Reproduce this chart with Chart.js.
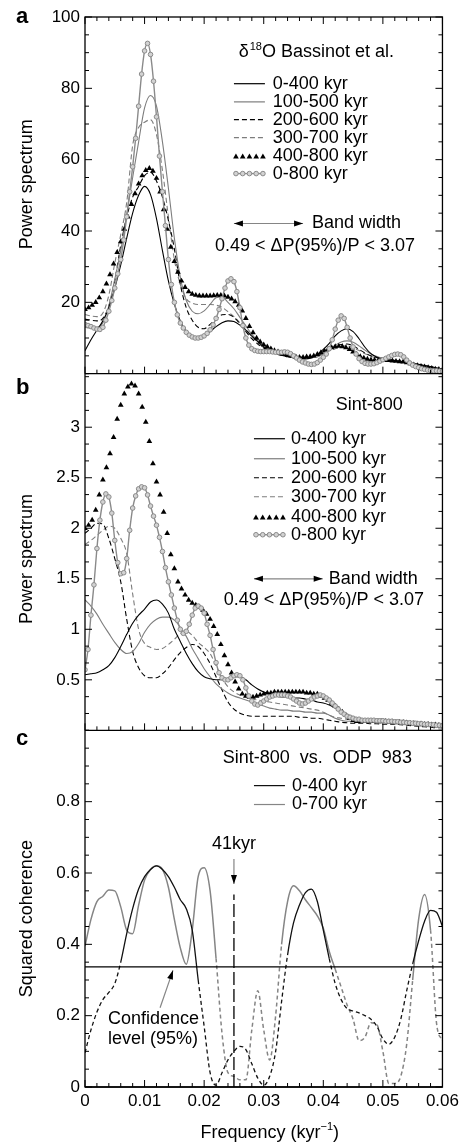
<!DOCTYPE html>
<html>
<head>
<meta charset="utf-8">
<title>Power spectra and coherence</title>
<script src="https://cdn.jsdelivr.net/npm/chart.js@4.4.1/dist/chart.umd.min.js"></script>
<style>
  html, body { margin: 0; padding: 0; background: #fff; }
  canvas { display: block; }
</style>
</head>
<body>
<canvas id="chart" width="463" height="1143"></canvas>
<script>
// frequency grids (kyr^-1)
const freqLine = [0,.001,.002,.003,.004,.005,.006,.007,.008,.009,.010,.011,.012,.013,.014,.015,.016,.017,.018,.019,
  .020,.021,.022,.023,.024,.025,.026,.027,.028,.029,.030,.031,.032,.033,.034,.035,.036,.037,.038,.039,
  .040,.041,.042,.043,.044,.045,.046,.047,.048,.049,.050,.051,.052,.053,.054,.055,.056,.057,.058,.059,.060];
const freqCircle = [0,.0005,.001,.0015,.002,.0025,.003,.0035,.004,.0045,.005,.0055,.006,.0065,.007,.0075,.008,.0085,.009,.0095,
  .010,.0105,.011,.0115,.012,.0125,.013,.0135,.014,.0145,.015,.0155,.016,.0165,.017,.0175,.018,.0185,.019,.0195,
  .020,.0205,.021,.0215,.022,.0225,.023,.0235,.024,.0245,.025,.0255,.026,.0265,.027,.0275,.028,.0285,.029,.0295,
  .030,.0305,.031,.0315,.032,.0325,.033,.0335,.034,.0345,.035,.0355,.036,.0365,.037,.0375,.038,.0385,.039,.0395,
  .040,.0405,.041,.0415,.042,.0425,.043,.0435,.044,.0445,.045,.0455,.046,.0465,.047,.0475,.048,.0485,.049,.0495,
  .050,.0505,.051,.0515,.052,.0525,.053,.0535,.054,.0545,.055,.0555,.056,.0565,.057,.0575,.058,.0585,.059,.0595,.060];
const freqTriangle = [0,.0006,.0012,.0018,.0024,.003,.0036,.0042,.0048,.0054,.006,.0066,.0072,.0078,.0084,.009,.0096,.0102,.0108,.0114,
  .012,.0126,.0132,.0138,.0144,.015,.0156,.0162,.0168,.0174,.018,.0186,.0192,.0198,.0204,.021,.0216,.0222,.0228,.0234,
  .024,.0246,.0252,.0258,.0264,.027,.0276,.0282,.0288,.0294,.030,.0306,.0312,.0318,.0324,.033,.0336,.0342,.0348,.0354,
  .036,.0366,.0372,.0378,.0384,.039,.0396,.0402,.0408,.0414,.042,.0426,.0432,.0438,.0444,.045,.0456,.0462,.0468,.0474,
  .048,.0486,.0492,.0498,.0504,.051,.0516,.0522,.0528,.0534,.054,.0546,.0552,.0558,.0564,.057,.0576,.0582,.0588,.0594,.060];

// panel a: d18O Bassinot et al.
const a0400 = [6.4,9.5,12.2,14.8,18.5,24.0,30.5,38.0,45.0,50.0,52.5,50.2,43.5,34.5,26.0,19.5,14.8,11.8,10.3,10.0,
  10.6,11.8,13.2,14.3,14.8,14.6,13.6,12.2,10.5,9.0,7.5,6.5,5.8,5.2,4.8,4.4,4.1,4.1,4.5,5.4,
  6.8,8.5,10.6,12.0,12.6,11.8,9.8,7.4,5.6,4.6,4.1,3.9,3.7,3.5,3.2,2.9,2.6,2.3,2.0,1.6,1.3];
const a100500 = [13.0,12.8,13.0,14.2,19.0,26.5,34.5,44.6,55.0,65.0,74.5,78.0,75.0,65.0,52.0,38.0,27.0,20.5,17.5,16.8,
  17.6,19.4,21.3,21.5,20.0,18.2,15.8,13.4,11.0,9.3,8.0,7.0,6.2,5.6,5.2,4.9,4.7,4.6,4.6,4.7,
  5.6,6.8,8.0,8.9,9.2,8.8,7.8,6.6,5.5,4.8,4.3,4.0,3.7,3.4,3.1,2.8,2.5,2.2,1.9,1.6,1.3];
const a200600 = [15.3,15.0,14.8,15.5,19.0,26.0,36.0,44.0,49.5,52.5,55.5,56.5,54.0,49.5,43.0,35.0,25.0,18.5,15.0,13.0,
  12.6,13.8,15.3,16.5,16.6,15.8,14.0,11.8,9.8,8.3,7.2,6.3,5.6,5.1,4.8,4.6,4.5,4.4,4.5,5.0,
  5.9,6.9,7.7,8.2,8.3,7.8,6.8,5.8,5.0,4.5,4.2,3.9,3.7,3.4,3.1,2.8,2.5,2.2,1.9,1.6,1.3];
const a300700 = [16.6,16.2,16.0,17.0,22.0,31.0,39.0,48.0,64.0,69.0,70.5,71.2,67.0,57.0,44.0,32.0,25.0,21.0,19.8,19.4,
  19.4,19.4,19.2,18.6,17.4,16.0,14.3,12.6,10.5,8.8,7.3,6.4,5.8,5.4,5.1,4.8,4.6,4.5,4.6,5.0,
  5.7,6.4,7.0,7.6,7.8,7.3,6.5,5.6,4.9,4.4,4.1,3.8,3.6,3.4,3.1,2.8,2.5,2.2,1.9,1.6,1.3];
const a400800 = [18.0,18.5,19.2,20.0,21.3,23.0,25.2,27.8,30.8,34.0,37.0,40.5,44.0,47.5,50.5,53.2,55.5,57.0,57.6,56.8,
  54.8,51.0,46.0,40.5,35.5,31.5,28.5,26.0,24.2,23.0,22.3,22.0,21.8,21.8,21.8,21.8,21.9,22.0,22.0,21.8,
  21.5,21.0,20.2,19.2,17.6,15.5,13.3,11.5,10.0,8.9,8.1,7.5,7.0,6.5,6.1,5.7,5.4,5.1,4.9,4.7,
  4.6,4.6,4.7,4.8,5.0,5.4,5.9,6.4,6.9,7.3,7.6,7.7,7.6,7.3,6.8,6.1,5.4,4.8,4.4,4.1,
  3.9,3.8,3.7,3.7,3.7,3.7,3.6,3.5,3.4,3.3,3.1,2.8,2.5,2.3,2.1,1.9,1.7,1.5,1.3,1.2,1.1];
const a0800 = [13.8,13.5,13.2,12.8,12.5,12.4,13.0,15.0,17.5,20.5,24.0,28.0,32.0,37.5,44.0,51.0,58.0,66.0,75.0,84.0,
  90.5,92.6,89.5,82.0,72.0,61.0,51.0,41.5,32.0,25.0,20.0,16.5,14.2,12.8,11.6,10.8,10.3,10.0,10.0,10.2,
  10.6,11.3,12.3,13.7,15.5,18.0,21.0,24.0,26.0,26.6,25.8,23.0,18.5,13.5,10.0,8.0,7.0,6.5,6.3,6.2,
  6.2,6.2,6.2,6.1,6.0,6.0,6.0,6.1,6.0,5.6,5.0,4.4,3.8,3.3,3.0,2.7,2.6,2.7,3.1,3.8,
  4.6,5.5,7.0,9.5,12.5,15.0,16.2,15.5,13.0,10.0,7.5,5.5,4.2,3.4,2.9,2.7,2.7,2.8,3.1,3.5,
  3.9,4.3,4.7,5.1,5.4,5.5,5.3,4.7,3.8,3.0,2.4,2.0,1.7,1.4,1.2,1.0,0.9,0.8,0.8,0.7,0.7];

// panel b: Sint-800
const b0400 = [0.55,0.56,0.57,0.60,0.64,0.72,0.83,0.95,1.06,1.14,1.20,1.27,1.29,1.25,1.16,1.00,0.88,0.76,0.66,0.58,
  0.53,0.51,0.50,0.50,0.51,0.53,0.53,0.50,0.45,0.41,0.38,0.36,0.34,0.33,0.33,0.32,0.32,0.31,0.30,0.28,
  0.27,0.25,0.22,0.19,0.16,0.13,0.11,0.10,0.095,0.09,0.09,0.085,0.085,0.08,0.075,0.07,0.065,0.06,0.055,0.05,0.045];
const b100500 = [1.29,1.23,1.15,1.05,0.96,0.87,0.80,0.76,0.78,0.86,0.97,1.05,1.10,1.12,1.12,1.09,1.02,0.93,0.81,0.71,
  0.61,0.53,0.46,0.41,0.37,0.34,0.32,0.30,0.28,0.26,0.24,0.22,0.21,0.20,0.20,0.19,0.19,0.18,0.18,0.17,
  0.17,0.15,0.12,0.10,0.09,0.09,0.085,0.085,0.08,0.08,0.08,0.075,0.075,0.07,0.07,0.065,0.06,0.055,0.05,0.04,0.035];
const b200600 = [1.95,2.00,2.05,2.04,1.90,1.70,1.47,1.10,0.78,0.62,0.54,0.52,0.52,0.56,0.62,0.70,0.77,0.82,0.85,0.83,
  0.76,0.66,0.53,0.40,0.28,0.21,0.17,0.15,0.14,0.14,0.14,0.14,0.14,0.14,0.14,0.14,0.13,0.13,0.12,0.12,
  0.11,0.10,0.09,0.08,0.075,0.07,0.07,0.07,0.065,0.065,0.06,0.06,0.06,0.055,0.05,0.045,0.04,0.035,0.03,0.025,0.025];
const b300700 = [1.84,1.88,1.93,1.98,2.02,2.00,1.90,1.75,1.35,1.00,0.86,0.82,0.80,0.81,0.85,0.90,0.96,0.98,0.94,0.87,
  0.82,0.76,0.64,0.52,0.43,0.38,0.35,0.33,0.31,0.30,0.29,0.28,0.27,0.26,0.25,0.24,0.23,0.22,0.21,0.20,
  0.18,0.15,0.13,0.12,0.11,0.10,0.09,0.085,0.08,0.075,0.07,0.07,0.065,0.06,0.055,0.05,0.045,0.04,0.035,0.03,0.025];
const b400800 = [2.00,2.03,2.08,2.18,2.33,2.48,2.60,2.74,2.90,3.08,3.22,3.33,3.40,3.43,3.41,3.33,3.20,3.05,2.86,2.64,
  2.46,2.33,2.16,1.95,1.74,1.60,1.47,1.40,1.34,1.29,1.26,1.24,1.22,1.19,1.15,1.10,1.03,0.95,0.85,0.74,
  0.65,0.57,0.48,0.41,0.36,0.34,0.33,0.33,0.34,0.35,0.36,0.37,0.37,0.38,0.38,0.38,0.38,0.38,0.38,0.38,
  0.38,0.38,0.37,0.37,0.36,0.36,0.34,0.32,0.30,0.27,0.24,0.21,0.18,0.15,0.12,0.10,0.09,0.09,0.09,0.09,
  0.09,0.09,0.09,0.09,0.09,0.085,0.085,0.08,0.08,0.08,0.075,0.07,0.07,0.065,0.065,0.06,0.06,0.055,0.055,0.05,0.05];
const b0800 = [0.60,0.80,1.14,1.44,1.80,2.08,2.26,2.34,2.31,2.15,1.88,1.66,1.55,1.56,1.70,1.98,2.20,2.32,2.39,2.41,
  2.40,2.33,2.22,2.12,2.03,1.91,1.77,1.61,1.47,1.34,1.21,1.09,1.00,0.96,0.98,1.05,1.14,1.21,1.23,1.21,
  1.16,1.05,0.94,0.80,0.67,0.57,0.52,0.50,0.50,0.52,0.54,0.55,0.54,0.50,0.42,0.34,0.29,0.26,0.25,0.27,
  0.29,0.31,0.33,0.34,0.35,0.35,0.35,0.35,0.34,0.33,0.31,0.29,0.27,0.26,0.27,0.29,0.31,0.33,0.34,0.35,
  0.34,0.32,0.30,0.27,0.24,0.21,0.18,0.16,0.14,0.13,0.12,0.11,0.11,0.10,0.10,0.10,0.10,0.10,0.095,0.095,
  0.095,0.09,0.09,0.09,0.085,0.085,0.08,0.08,0.075,0.075,0.07,0.07,0.065,0.065,0.06,0.06,0.055,0.055,0.05,0.05,0.045];

// panel c: Sint-800 vs. ODP 983 squared coherence
const c0400 = [0.096,0.16,0.21,0.245,0.265,0.29,0.35,0.43,0.50,0.555,0.59,0.61,0.62,0.61,0.59,0.56,0.525,0.50,0.44,0.30,
  0.17,0.04,0.005,0.04,0.076,0.10,0.114,0.105,0.065,0.025,0.005,0.03,0.10,0.24,0.37,0.46,0.51,0.545,0.555,0.52,
  0.44,0.36,0.29,0.245,0.22,0.213,0.208,0.20,0.19,0.17,0.135,0.12,0.14,0.19,0.27,0.345,0.41,0.465,0.495,0.49,0.45];
const c0700 = [0.395,0.47,0.52,0.535,0.552,0.55,0.505,0.44,0.43,0.51,0.58,0.61,0.62,0.61,0.56,0.47,0.39,0.344,0.44,0.59,
  0.615,0.55,0.36,0.15,0.04,0.03,0.02,0.02,0.16,0.27,0.16,0.076,0.20,0.40,0.52,0.564,0.55,0.525,0.503,0.48,
  0.445,0.38,0.33,0.28,0.23,0.19,0.13,0.14,0.18,0.175,0.10,0.01,0.01,0.03,0.12,0.30,0.47,0.54,0.44,0.18,0.13];
const confLevel = 0.337;
const mark41 = 0.025;
const mark41Top = 0.54;

// axis ticks
const xTicks = [0,.002,.004,.006,.008,.01,.012,.014,.016,.018,.02,.022,.024,.026,.028,.03,
  .032,.034,.036,.038,.04,.042,.044,.046,.048,.05,.052,.054,.056,.058,.06];
const xLabels = [0,.01,.02,.03,.04,.05,.06];
const yTicksA = [0,5,10,15,20,25,30,35,40,45,50,55,60,65,70,75,80,85,90,95,100];
const yLabelsA = [20,40,60,80,100];
const yTicksB = [0,.1667,.3333,.5,.6667,.8333,1,1.1667,1.3333,1.5,1.6667,1.8333,2,2.1667,2.3333,2.5,2.6667,2.8333,3,3.1667,3.3333,3.5];
const yLabelsB = [.5,1,1.5,2,2.5,3];
const yTicksC = [0,.05,.1,.15,.2,.25,.3,.35,.4,.45,.5,.55,.6,.65,.7,.75,.8,.85,.9,.95,1];
const yLabelsC = [0,.2,.4,.6,.8];

const FONT = '"Liberation Sans", Arial, Helvetica, sans-serif';
const BLACK = '#000';
const GRAY = '#7d7d7d';
const DASH = [5, 3];
Chart.defaults.font.family = FONT;
Chart.defaults.color = '#000';

function pts(xs, ys) {
    return ys.map((y, i) => ({ x: xs[i], y: y }));
}

function lineSet(label, ys, axis, color, dash, order) {
    return {
        label, data: pts(freqLine, ys), yAxisID: axis, order,
        borderColor: color, borderWidth: 1.1, borderDash: dash,
        pointRadius: 0, cubicInterpolationMode: 'monotone', fill: false
    };
}

function triSet(label, ys, axis, order) {
    return {
        label, data: pts(freqTriangle, ys), yAxisID: axis, order,
        showLine: false, pointStyle: 'triangle', pointRadius: 3.3,
        pointBackgroundColor: BLACK, pointBorderColor: BLACK, pointBorderWidth: 0
    };
}

function circSet(label, ys, axis, order) {
    return {
        label, data: pts(freqCircle, ys), yAxisID: axis, order,
        borderColor: '#8a8a8a', borderWidth: 1.4, cubicInterpolationMode: 'monotone',
        pointStyle: 'circle', pointRadius: 2.3,
        pointBackgroundColor: '#d2d2d2', pointBorderColor: '#8a8a8a', pointBorderWidth: 1
    };
}

// coherence: dashed where the curve sits below the confidence level
function cohSet(label, ys, color, width, order) {
    return {
        label, data: pts(freqLine, ys), yAxisID: 'yC', order,
        borderColor: color, borderWidth: width, pointRadius: 0, cubicInterpolationMode: 'monotone',
        segment: {
            borderDash: c => ((c.p0.parsed.y + c.p1.parsed.y) / 2 < confLevel ? [4, 3] : undefined)
        }
    };
}

const datasets = [
    circSet('0-800 kyr', a0800, 'yA', 1),
    triSet('400-800 kyr', a400800, 'yA', 2),
    lineSet('0-400 kyr', a0400, 'yA', BLACK, [], 3),
    lineSet('100-500 kyr', a100500, 'yA', GRAY, [], 4),
    lineSet('200-600 kyr', a200600, 'yA', BLACK, DASH, 5),
    lineSet('300-700 kyr', a300700, 'yA', GRAY, DASH, 6),
    circSet('0-800 kyr', b0800, 'yB', 1),
    triSet('400-800 kyr', b400800, 'yB', 2),
    lineSet('0-400 kyr', b0400, 'yB', BLACK, [], 3),
    lineSet('100-500 kyr', b100500, 'yB', GRAY, [], 4),
    lineSet('200-600 kyr', b200600, 'yB', BLACK, DASH, 5),
    lineSet('300-700 kyr', b300700, 'yB', GRAY, DASH, 6),
    cohSet('0-400 kyr', c0400, '#111', 1.3, 2),
    cohSet('0-700 kyr', c0700, '#858585', 1.5, 3),
    {
        label: 'confidence', yAxisID: 'yC', order: 0, borderColor: BLACK, borderWidth: 1.2, pointRadius: 0,
        data: [{ x: xTicks[0], y: confLevel }, { x: xTicks[xTicks.length - 1], y: confLevel }]
    },
    {
        label: '41 kyr', yAxisID: 'yC', order: 0, borderColor: BLACK, borderWidth: 1.3, borderDash: [13, 4], pointRadius: 0,
        data: [{ x: mark41, y: 0 }, { x: mark41, y: mark41Top }]
    }
];

function yScale(min, max, ticks, labels, weight) {
    return {
        type: 'linear', position: 'left', stack: 'panels', stackWeight: 1, weight,
        min, max,
        afterBuildTicks: s => { s.ticks = ticks.map(v => ({ value: v })); },
        afterFit: s => { s.width = 85; },
        grid: { display: false, drawTicks: false },
        border: { display: false },
        ticks: {
            autoSkip: false, padding: 5, color: '#000', font: { size: 17 },
            callback: v => (labels.includes(v) ? String(v) : '')
        }
    };
}

// legends and annotations
const specRows = [
    { label: '0-400 kyr', kind: 'line', color: BLACK, dash: [] },
    { label: '100-500 kyr', kind: 'line', color: GRAY, dash: [] },
    { label: '200-600 kyr', kind: 'line', color: BLACK, dash: DASH },
    { label: '300-700 kyr', kind: 'line', color: GRAY, dash: DASH },
    { label: '400-800 kyr', kind: 'tri' },
    { label: '0-800 kyr', kind: 'circ' }
];
const cohRows = [
    { label: '0-400 kyr', kind: 'line', color: '#111', dash: [] },
    { label: '0-700 kyr', kind: 'line', color: '#858585', dash: [] }
];
const legends = [
    { axis: 'yA', rows: specRows, x0: 0.0250, x1: 0.0302, xt: 0.0315, ys: [81.3, 76.2, 71.2, 66.2, 61.1, 56.1] },
    { axis: 'yB', rows: specRows, x0: 0.02836, x1: 0.03356, xt: 0.03456, ys: [2.886, 2.688, 2.5, 2.312, 2.114, 1.936] },
    { axis: 'yC', rows: cohRows, x0: 0.02836, x1: 0.03356, xt: 0.03473, ys: [0.845, 0.792] }
];

function setFont(ctx, size, weight) {
    ctx.font = (weight || 'normal') + ' ' + size + 'px ' + FONT;
}

function text(ctx, str, x, y, align, size, weight) {
    setFont(ctx, size, weight);
    ctx.textAlign = align;
    ctx.textBaseline = 'middle';
    ctx.fillText(str, x, y);
}

function triangle(ctx, x, y, r) {
    ctx.beginPath();
    for (let k = 0; k < 3; k++) {
        const a = k * 2 * Math.PI / 3;
        const px = x + Math.sin(a) * r, py = y - Math.cos(a) * r;
        k ? ctx.lineTo(px, py) : ctx.moveTo(px, py);
    }
    ctx.closePath();
    ctx.fill();
}

function head(ctx, x, y, ang, len, w) {
    ctx.beginPath();
    ctx.moveTo(x, y);
    ctx.lineTo(x - len * Math.cos(ang) + w * Math.sin(ang), y - len * Math.sin(ang) - w * Math.cos(ang));
    ctx.lineTo(x - len * Math.cos(ang) - w * Math.sin(ang), y - len * Math.sin(ang) + w * Math.cos(ang));
    ctx.closePath();
    ctx.fill();
}

function arrow(ctx, x1, y1, x2, y2, both) {
    const ang = Math.atan2(y2 - y1, x2 - x1);
    ctx.beginPath();
    ctx.moveTo(x1, y1);
    ctx.lineTo(x2, y2);
    ctx.stroke();
    head(ctx, x2, y2, ang, 9, 3);
    if (both) head(ctx, x1, y1, ang + Math.PI, 9, 3);
}

const decor = {
    id: 'decor',
    afterDatasetsDraw(chart) {
        const { ctx, chartArea: ca, scales: s } = chart;
        ctx.save();
        ctx.strokeStyle = BLACK;
        ctx.lineWidth = 1.3;
        ctx.strokeRect(ca.left, ca.top, ca.width, ca.height);
        const panels = [['yA', yTicksA, yLabelsA], ['yB', yTicksB, yLabelsB], ['yC', yTicksC, yLabelsC]];
        ctx.beginPath();
        panels.forEach(([id]) => {
            ctx.moveTo(ca.left, s[id].bottom);
            ctx.lineTo(ca.right, s[id].bottom);
        });
        ctx.stroke();
        ctx.lineWidth = 1;
        ctx.beginPath();
        panels.forEach(([id, ticks, labels]) => {
            const y = s[id];
            ticks.forEach(v => {
                const py = y.getPixelForValue(v);
                const len = labels.includes(v) ? 7 : 4;
                ctx.moveTo(ca.left, py); ctx.lineTo(ca.left + len, py);
                ctx.moveTo(ca.right, py); ctx.lineTo(ca.right - len, py);
            });
            xTicks.forEach(v => {
                const px = s.x.getPixelForValue(v);
                const len = xLabels.includes(v) ? 7 : 4;
                ctx.moveTo(px, y.bottom); ctx.lineTo(px, y.bottom - len);
                if (id === 'yA') { ctx.moveTo(px, y.top); ctx.lineTo(px, y.top + len); }
            });
        });
        ctx.stroke();
        ctx.restore();
    },
    afterDraw(chart) {
        const { ctx, scales: s } = chart;
        const X = v => s.x.getPixelForValue(v);
        ctx.save();
        ctx.fillStyle = BLACK;
        ctx.strokeStyle = BLACK;

        // legends
        legends.forEach(lg => {
            const y = s[lg.axis];
            lg.rows.forEach((row, i) => {
                const py = y.getPixelForValue(lg.ys[i]);
                const x0 = X(lg.x0), x1 = X(lg.x1);
                if (row.kind === 'line') {
                    ctx.strokeStyle = row.color;
                    ctx.lineWidth = 1.2;
                    ctx.setLineDash(row.dash);
                    ctx.beginPath(); ctx.moveTo(x0, py); ctx.lineTo(x1, py); ctx.stroke();
                    ctx.setLineDash([]);
                } else if (row.kind === 'tri') {
                    ctx.fillStyle = BLACK;
                    for (let k = 0; k < 5; k++) triangle(ctx, x0 + 2 + (x1 - x0 - 4) * k / 4, py + 1, 3.3);
                } else {
                    ctx.strokeStyle = '#8a8a8a';
                    ctx.lineWidth = 1.4;
                    ctx.beginPath(); ctx.moveTo(x0, py); ctx.lineTo(x1, py); ctx.stroke();
                    ctx.fillStyle = '#d2d2d2';
                    ctx.lineWidth = 1;
                    for (let k = 0; k < 5; k++) {
                        ctx.beginPath();
                        ctx.arc(x0 + 2 + (x1 - x0 - 4) * k / 4, py, 2.3, 0, 2 * Math.PI);
                        ctx.fill(); ctx.stroke();
                    }
                }
                ctx.fillStyle = BLACK;
                text(ctx, row.label, X(lg.xt), py, 'left', 18);
            });
        });

        // panel a title with superscript
        let px = X(0.0258), py = s.yA.getPixelForValue(90.2);
        setFont(ctx, 18); ctx.textAlign = 'left'; ctx.textBaseline = 'middle';
        ctx.fillText('\u03b4', px, py);
        px += ctx.measureText('\u03b4').width + 1;
        setFont(ctx, 11);
        ctx.fillText('18', px, py - 5);
        px += ctx.measureText('18').width;
        setFont(ctx, 18);
        ctx.fillText('O Bassinot et al.', px, py);

        text(ctx, 'Sint-800', X(0.0421), s.yB.getPixelForValue(3.22), 'left', 18);
        text(ctx, 'Sint-800  vs.  ODP  983', X(0.0390), s.yC.getPixelForValue(0.921), 'center', 18);

        // band width markers
        ctx.lineWidth = 1.2;
        [['yA', 0.0250, 0.0366, 0.0381, 42.1, 0.0386, 35.7], ['yB', 0.02836, 0.0399, 0.0409, 1.5, 0.0401, 1.29]]
            .forEach(([id, a0, a1, tx, ay, cx, cy]) => {
                const yy = s[id].getPixelForValue(ay);
                arrow(ctx, X(a0), yy, X(a1), yy, true);
                text(ctx, 'Band width', X(tx), yy, 'left', 18);
                text(ctx, '0.49 < \u0394P(95%)/P < 3.07', X(cx), s[id].getPixelForValue(cy), 'center', 18);
            });

        // 41 kyr marker
        text(ctx, '41kyr', X(mark41), s.yC.getPixelForValue(0.682), 'center', 18);
        arrow(ctx, X(mark41), s.yC.getPixelForValue(0.639), X(mark41), s.yC.getPixelForValue(0.569), false);

        // confidence label
        text(ctx, 'Confidence', X(0.00386), s.yC.getPixelForValue(0.19), 'left', 18);
        text(ctx, 'level (95%)', X(0.00386), s.yC.getPixelForValue(0.135), 'left', 18);
        arrow(ctx, X(0.0126), s.yC.getPixelForValue(0.222), X(0.01477), s.yC.getPixelForValue(0.327), false);

        // panel letters
        text(ctx, 'a', 16, s.yA.top + 0, 'left', 22, 'bold');
        text(ctx, 'b', 16, s.yB.top + 14, 'left', 22, 'bold');
        text(ctx, 'c', 16, s.yC.top + 9, 'left', 22, 'bold');

        // axis titles
        [['yA', 'Power spectrum', -11], ['yB', 'Power spectrum', 7], ['yC', 'Squared coherence', 10]].forEach(([id, t, dy]) => {
            ctx.save();
            ctx.translate(27, (s[id].top + s[id].bottom) / 2 + dy);
            ctx.rotate(-Math.PI / 2);
            text(ctx, t, 0, 0, 'center', 18);
            ctx.restore();
        });

        // x title: Frequency (kyr^-1)
        const parts = [['Frequency (kyr', 18, 0], ['\u22121', 11, -6], [')', 18, 0]];
        let w = 0;
        parts.forEach(([t, sz]) => { setFont(ctx, sz); w += ctx.measureText(t).width; });
        let tx = (s.x.left + s.x.right) / 2 + 6 - w / 2;
        const ty = 1133;
        ctx.textAlign = 'left'; ctx.textBaseline = 'middle';
        parts.forEach(([t, sz, off]) => {
            setFont(ctx, sz);
            ctx.fillText(t, tx, ty + off);
            tx += ctx.measureText(t).width;
        });
        ctx.restore();
    }
};

new Chart(document.getElementById('chart'), {
    type: 'line',
    data: { datasets },
    options: {
        responsive: false,
        devicePixelRatio: 1,
        animation: false,
        events: [],
        layout: { padding: { top: 17, right: 20, left: 0, bottom: 0 } },
        plugins: { legend: { display: false }, tooltip: { enabled: false } },
        scales: {
            x: {
                type: 'linear', min: 0, max: 0.06,
                afterBuildTicks: s => { s.ticks = xTicks.map(v => ({ value: v })); },
                afterFit: s => { s.height = 56; },
                grid: { display: false, drawTicks: false },
                border: { display: false },
                ticks: {
                    autoSkip: false, maxRotation: 0, padding: 4, color: '#000', font: { size: 17 },
                    callback: v => (xLabels.includes(v) ? String(v) : '')
                }
            },
            yA: yScale(0, 100, yTicksA, yLabelsA, 3),
            yB: yScale(0, 3.53, yTicksB, yLabelsB, 2),
            yC: yScale(0, 1, yTicksC, yLabelsC, 1)
        }
    },
    plugins: [decor]
});
</script>
</body>
</html>
